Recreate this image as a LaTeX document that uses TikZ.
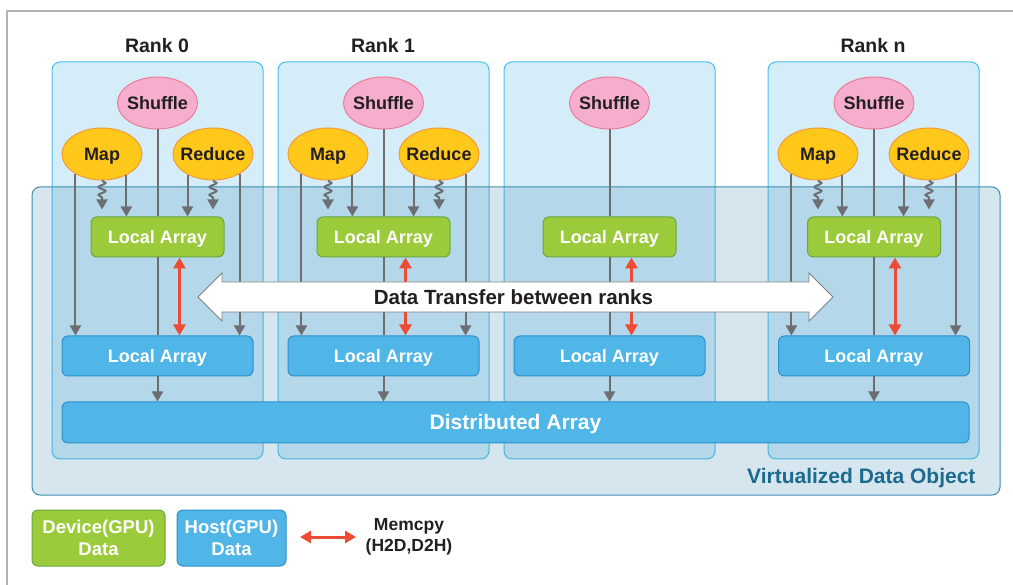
\documentclass[tikz,border=0pt]{standalone}
\usepackage{fontspec}
\setmainfont{Liberation Sans}
\usetikzlibrary{shapes.geometric,arrows.meta,decorations.pathmorphing}

\definecolor{rankfill}{HTML}{D5EDF9}
\definecolor{rankline}{HTML}{45BFEE}
\definecolor{vdofill}{RGB}{72,146,181}
\definecolor{vdoline}{HTML}{3F8CAE}
\definecolor{vdotext}{HTML}{1D6A8E}
\definecolor{devfill}{HTML}{9BCB3B}
\definecolor{devline}{HTML}{67A83E}
\definecolor{hostfill}{HTML}{50B5E7}
\definecolor{hostline}{HTML}{2C91CC}
\definecolor{shufflefill}{HTML}{F5AECD}
\definecolor{shuffleline}{HTML}{EC7C98}
\definecolor{mapfill}{HTML}{FFC81A}
\definecolor{mapline}{HTML}{F39A38}
\definecolor{flowgray}{HTML}{6D6E71}
\definecolor{memred}{HTML}{EE4B35}
\definecolor{inktext}{HTML}{231F20}

\tikzset{
  rankcol/.style={fill=rankfill, draw=rankline, line width=1pt, rounded corners=8pt},
  ranklabel/.style={text=inktext, font=\fontsize{19.5}{23}\selectfont\bfseries},
  oval/.style={ellipse, minimum width=80pt, minimum height=52pt, inner xsep=-8pt, inner ysep=0pt, line width=1pt,
    text height=13pt, text depth=0pt, text=inktext, font=\fontsize{18}{21}\selectfont\bfseries},
  shufflenode/.style={oval, fill=shufflefill, draw=shuffleline},
  mrnode/.style={oval, fill=mapfill, draw=mapline},
  arraybox/.style={rounded corners=6pt, minimum height=40pt, inner sep=0pt, line width=1pt,
    text=white, font=\fontsize{18}{22}\selectfont\bfseries},
  oneline/.style={text height=13pt, text depth=0pt},
  devbox/.style={arraybox, oneline, fill=devfill, draw=devline, minimum width=133pt},
  hostbox/.style={arraybox, oneline, fill=hostfill, draw=hostline, minimum width=191pt},
  thru/.style={draw=flowgray, line width=2pt},
  flow/.style={thru, -{Triangle[width=11pt,length=10pt]}},
  wavy/.style={flow, decorate, decoration={snake, amplitude=3.5pt, segment length=8pt, post length=12pt}},
  memcpy/.style={draw=memred, line width=3pt, {Triangle[width=12pt,length=11pt]}-{Triangle[width=12pt,length=11pt]}},
}

\begin{document}
\begin{tikzpicture}[x=1pt, y=-1pt]
    \useasboundingbox (0,0) rectangle (1013,585);

    % Frame: only the top and left edges show
    \draw[gray!60, line width=1.3pt] (1013,11) -- (7,11) -- (7,585);

    % Rank columns
    \draw[rankcol] (52,62) rectangle (263,459);
    \draw[rankcol] (278,62) rectangle (489,459);
    \draw[rankcol] (504,62) rectangle (715,459);
    \draw[rankcol] (768,62) rectangle (979,459);

    % See-through band over all ranks
    \draw[draw=vdoline, line width=1pt, fill=vdofill, fill opacity=0.23, rounded corners=8pt] (32,187) rectangle (1000,495);
    \node[anchor=east, text=vdotext, font=\fontsize{21}{25}\selectfont\bfseries] (vdo) at (979,478) {Virtualized Data Object};

    \node[ranklabel] (rank0) at (157,46) {Rank 0};
    \node[ranklabel] (rank1) at (383,46) {Rank 1};
    \node[ranklabel] (rankn) at (873,46) {Rank n};

    % Shared array along the bottom
    \node[arraybox, oneline, fill=hostfill, draw=hostline, minimum width=907pt, minimum height=41pt,
          text height=15pt, font=\fontsize{21}{25}\selectfont\bfseries] (dist) at (515.5,422.5) {Distributed Array};

    % Rank 0
    \node[shufflenode] (shuffleA) at (157.5,103) {Shuffle};
    \node[mrnode] (mapA) at (102,154) {Map};
    \node[mrnode] (reduceA) at (213,154) {Reduce};
    \node[devbox] (devA) at (157.5,237) {Local Array};
    \node[hostbox] (hostA) at (157.5,356) {Local Array};
    \draw[flow] (mapA.217) -- (mapA.217 |- hostA.north);
    \draw[flow] (mapA.319) -- (mapA.319 |- devA.north);
    \draw[wavy] (mapA.south) -- ++(0,29);
    \draw[flow] (reduceA.219) -- (reduceA.219 |- devA.north);
    \draw[wavy] (reduceA.south) -- ++(0,29);
    \draw[flow] (reduceA.323) -- (reduceA.323 |- hostA.north);
    \draw[thru] (shuffleA.south) -- (devA.north);
    \draw[thru] (devA.south) -- (hostA.north);
    \draw[flow] (hostA.south) -- (hostA.south |- dist.north);
    \draw[memcpy] ([xshift=22pt]devA.south) -- ([xshift=22pt]devA.south |- hostA.north);

    % Rank 1
    \node[shufflenode] (shuffleB) at (383.5,103) {Shuffle};
    \node[mrnode] (mapB) at (328,154) {Map};
    \node[mrnode] (reduceB) at (439,154) {Reduce};
    \node[devbox] (devB) at (383.5,237) {Local Array};
    \node[hostbox] (hostB) at (383.5,356) {Local Array};
    \draw[flow] (mapB.217) -- (mapB.217 |- hostB.north);
    \draw[flow] (mapB.319) -- (mapB.319 |- devB.north);
    \draw[wavy] (mapB.south) -- ++(0,29);
    \draw[flow] (reduceB.219) -- (reduceB.219 |- devB.north);
    \draw[wavy] (reduceB.south) -- ++(0,29);
    \draw[flow] (reduceB.323) -- (reduceB.323 |- hostB.north);
    \draw[thru] (shuffleB.south) -- (devB.north);
    \draw[thru] (devB.south) -- (hostB.north);
    \draw[flow] (hostB.south) -- (hostB.south |- dist.north);
    \draw[memcpy] ([xshift=22pt]devB.south) -- ([xshift=22pt]devB.south |- hostB.north);

    % Third rank: shuffle only
    \node[shufflenode] (shuffleC) at (609.5,103) {Shuffle};
    \node[devbox] (devC) at (609.5,237) {Local Array};
    \node[hostbox] (hostC) at (609.5,356) {Local Array};
    \draw[thru] (shuffleC.south) -- (devC.north);
    \draw[thru] (devC.south) -- (hostC.north);
    \draw[flow] (hostC.south) -- (hostC.south |- dist.north);
    \draw[memcpy] ([xshift=22pt]devC.south) -- ([xshift=22pt]devC.south |- hostC.north);

    % Rank n
    \node[shufflenode] (shuffleD) at (874,103) {Shuffle};
    \node[mrnode] (mapD) at (818,154) {Map};
    \node[mrnode] (reduceD) at (929,154) {Reduce};
    \node[devbox] (devD) at (874,237) {Local Array};
    \node[hostbox] (hostD) at (874,356) {Local Array};
    \draw[flow] (mapD.217) -- (mapD.217 |- hostD.north);
    \draw[flow] (mapD.319) -- (mapD.319 |- devD.north);
    \draw[wavy] (mapD.south) -- ++(0,29);
    \draw[flow] (reduceD.219) -- (reduceD.219 |- devD.north);
    \draw[wavy] (reduceD.south) -- ++(0,29);
    \draw[flow] (reduceD.323) -- (reduceD.323 |- hostD.north);
    \draw[thru] (shuffleD.south) -- (devD.north);
    \draw[thru] (devD.south) -- (hostD.north);
    \draw[flow] (hostD.south) -- (hostD.south |- dist.north);
    \draw[memcpy] ([xshift=21pt]devD.south) -- ([xshift=21pt]devD.south |- hostD.north);

    % Wide two-headed arrow across the ranks
    \draw[draw=gray, line width=0.8pt, fill=white] (198,297) -- (222,273) -- (222,282) -- (809,282)
        -- (809,273) -- (833,297) -- (809,321) -- (809,312) -- (222,312) -- (222,321) -- cycle;
    \node[text=inktext, font=\fontsize{20.5}{24}\selectfont\bfseries] (transfer) at (513.5,297) {Data Transfer between ranks};

    % Legend
    \node[arraybox, fill=devfill, draw=devline, minimum width=133pt, minimum height=56pt, align=center,
          font=\fontsize{18.5}{22}\selectfont\bfseries] (legdev) at (98.5,538) {Device(GPU)\\Data};
    \node[arraybox, fill=hostfill, draw=hostline, minimum width=109pt, minimum height=56pt, align=center,
          font=\fontsize{18.5}{22}\selectfont\bfseries] (leghost) at (231.5,538) {Host(GPU)\\Data};
    \coordinate (memL) at (300,537);
    \coordinate (memR) at (356,537);
    \draw[memcpy] (memL) -- (memR);
    \node[text=inktext, align=center, font=\fontsize{17.5}{21}\selectfont\bfseries] (memtext) at (409,537) {Memcpy\\(H2D,D2H)};
\end{tikzpicture}
\end{document}
